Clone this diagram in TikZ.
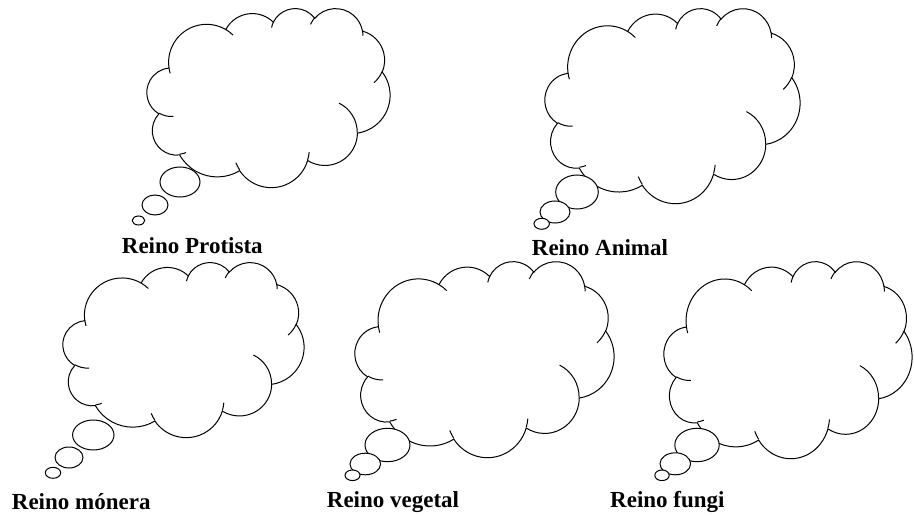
\documentclass[tikz,border=0pt]{standalone}
\usepackage{fontspec}
\setmainfont{Liberation Serif}
\usetikzlibrary{positioning}
\tikzstyle{kingdom}=[font=\fontsize{23}{27}\selectfont\bfseries,inner sep=0pt,anchor=base west]
\tikzstyle{bubble}=[draw,fill=white,line width=1pt]

% cloud in a 43.2 x 43.2 box: left, top, width, height (px)
\newcommand\drawcloud[4]{%
  \begin{scope}[shift={(#1,#2)},x=#3pt/43.2,y=-#4pt/43.2,line width=1pt]
    \draw (3.9,14.37) foreach \rx/\ry/\sa/\da in {
        6.753/9.190/-190.4875/123.7805, 5.333/7.267/-144.1024/89.9452,
        4.365/5.945/-145.8079/99.7230, 4.857/6.595/-130.9861/117.2417,
        5.333/7.273/-78.7089/109.0269, 6.775/9.220/-46.2673/130.2690,
        5.785/7.867/0.6250/114.0333, 6.752/9.215/22.4516/115.1726,
        7.720/10.543/66.2426/75.7110, 4.360/5.918/-274.9421/146.7356,
        4.345/5.945/-246.8285/152.5189}
      {arc[x radius=\rx,y radius=\ry,
           start angle={atan2(\rx*sin(\sa),\ry*cos(\sa))},
           delta angle={mod(atan2(\rx*sin(\sa+\da),\ry*cos(\sa+\da))-atan2(\rx*sin(\sa),\ry*cos(\sa))+720,360)}]}
      -- cycle;
    \draw foreach \px/\py/\rx/\ry/\sa/\da in {
        4.693/26.177/4.345/5.945/86.742/26.4295, 6.928/34.899/4.360/5.918/73.6105/11.4475,
        16.478/39.090/6.752/9.215/137.6242/14.0811, 28.827/34.751/6.752/9.215/6.4533/15.9984,
        34.129/22.954/5.785/7.867/-70.2924/70.9174, 41.798/15.354/5.333/7.273/30.3180/27.7515,
        38.324/5.426/4.857/6.595/-13.7443/14.8589, 29.078/3.952/4.857/6.595/-149.1815/18.1954,
        22.141/4.720/4.365/5.945/-163.4943/17.6864, 14.000/5.192/6.753/9.190/-66.7070/12.3194,
        4.127/15.789/6.753/9.190/157.6544/11.8582}
      {(\px,\py) arc[x radius=\rx,y radius=\ry,
           start angle={atan2(\rx*sin(\sa),\ry*cos(\sa))},
           delta angle={mod(atan2(\rx*sin(\sa+\da),\ry*cos(\sa+\da))-atan2(\rx*sin(\sa),\ry*cos(\sa))+720,360)}]};
  \end{scope}}

\begin{document}
\begin{tikzpicture}[x=1pt,y=-1pt]
  \useasboundingbox[fill=white] (0,0) rectangle (914,516);

  \drawcloud{147}{8}{243}{179}
  \drawcloud{545}{8}{255}{195}
  \drawcloud{63}{262}{241}{175}
  \drawcloud{355}{261}{259}{196}
  \drawcloud{664}{261}{248}{197}

  \draw[bubble] (180,182) ellipse [x radius=20,y radius=15];
  \draw[bubble] (155,205) ellipse [x radius=13,y radius=10];
  \draw[bubble] (138.5,220.5) ellipse [x radius=6.3,y radius=4.5];

  \draw[bubble] (577,192) ellipse [x radius=21.3,y radius=17];
  \draw[bubble] (555,212) ellipse [x radius=15,y radius=11];
  \draw[bubble] (541.7,223.8) ellipse [x radius=7.7,y radius=5.5];

  \draw[bubble] (93.3,435) ellipse [x radius=20.7,y radius=15];
  \draw[bubble] (69,457.5) ellipse [x radius=14,y radius=10.5];
  \draw[bubble] (53,472.8) ellipse [x radius=7.7,y radius=5.5];

  \draw[bubble] (387.5,445) ellipse [x radius=22.5,y radius=16.7];
  \draw[bubble] (365.3,464) ellipse [x radius=15.3,y radius=10.8];
  \draw[bubble] (352.5,475.3) ellipse [x radius=7.5,y radius=5.3];

  \draw[bubble] (697,445) ellipse [x radius=22.2,y radius=16.7];
  \draw[bubble] (675.3,463.8) ellipse [x radius=15.3,y radius=11];
  \draw[bubble] (662,475.3) ellipse [x radius=7.2,y radius=5.3];

  \node[kingdom] (protista) at (121.7,254) {Reino Protista};
  \node[kingdom] (animal) at (531.7,255) {Reino Animal};
  \node[kingdom] (monera) at (11.7,509) {Reino mónera};
  \node[kingdom] (vegetal) at (326.7,507) {Reino vegetal};
  \node[kingdom] (fungi) at (610,507) {Reino fungi};
\end{tikzpicture}
\end{document}
